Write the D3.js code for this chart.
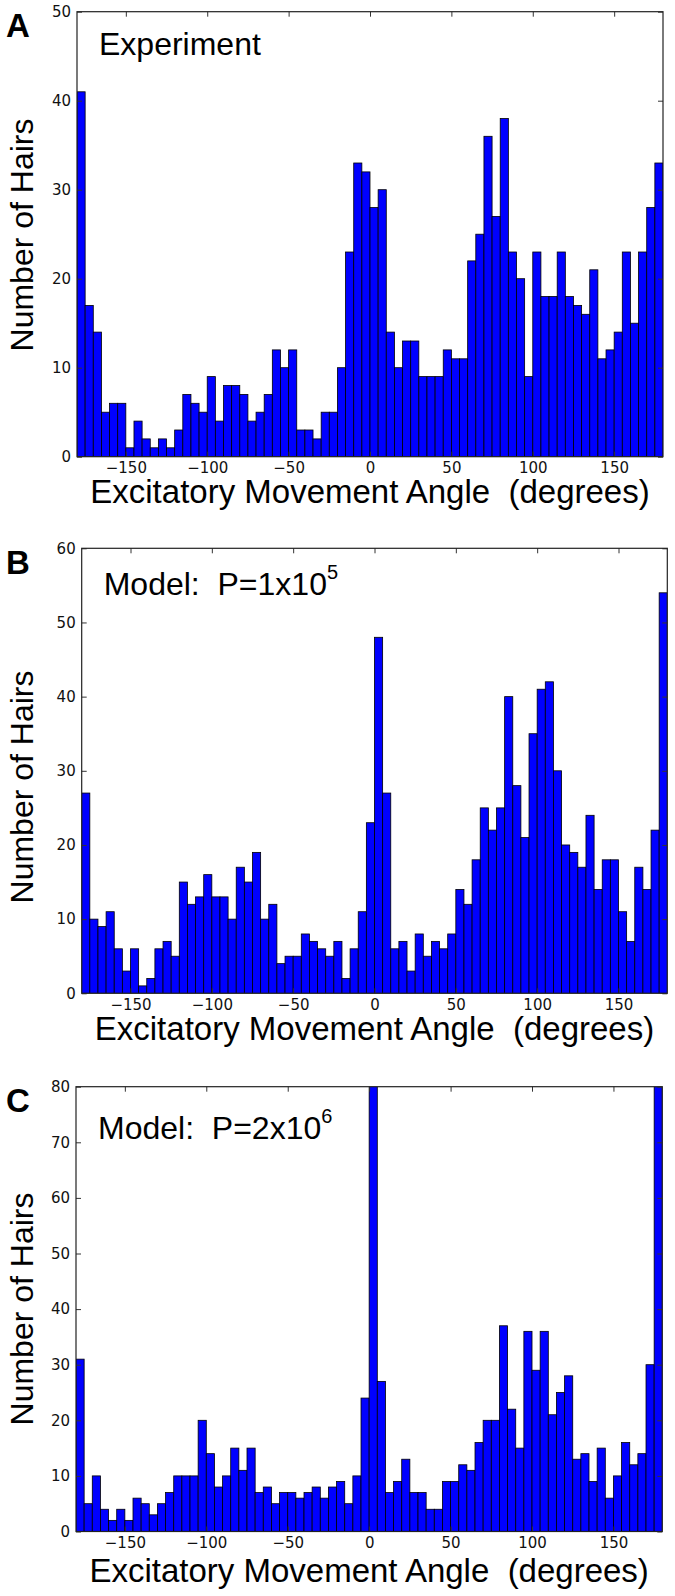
<!DOCTYPE html>
<html>
<head>
<meta charset="utf-8">
<script src="https://cdn.jsdelivr.net/npm/d3@7"></script>
<style>
  body { margin: 0; background: #fff; }
  svg { display: block; }
</style>
</head>
<body>
<div id="chart"></div>
<script>
// 5 degree bins from -180 to 180
const binStarts = d3.range(-180, 180, 5);
const binWidth = 5;

// counts per bin
const experimentCounts = [41,17,14,5,6,6,1,4,2,1, 2,1,3,7,6,5,9,4,8,8, 7,4,5,7,12,10,12,3,3,2,
  5,5,10,23,33,32,28,30,14,10, 13,13,9,9,9,12,11,11,22,25, 36,27,38,23,20,9,23,18,18,23,
  18,17,16,21,11,12,14,23,15,23, 28,33];
const modelP1e5Counts = [27,10,9,11,6,3,6,1,2,6, 7,5,15,12,13,16,13,13,10,17, 15,19,10,12,4,5,5,8,7,6,
  5,7,2,6,11,23,48,27,6,7, 3,8,5,7,6,8,14,12,18,25, 22,25,40,28,21,35,41,42,30,20,
  19,17,24,14,18,18,11,7,17,14, 22,54];
// two bars run off the top of panel C (> 80)
const modelP2e6Counts = [31,5,10,4,2,4,2,6,5,3, 5,7,10,10,10,20,14,8,10,15, 11,15,7,8,5,7,7,6,7,8,
  6,8,9,5,10,24,95,27,7,9, 13,7,7,4,4,9,9,12,11,16, 20,20,37,22,15,36,29,36,21,25,
  28,13,14,9,15,6,10,16,12,14, 30,90];

const angleTicks = [-150, -100, -50, 0, 50, 100, 150];
const countTicksA = [0, 10, 20, 30, 40, 50];
const countTicksB = [0, 10, 20, 30, 40, 50, 60];
const countTicksC = [0, 10, 20, 30, 40, 50, 60, 70, 80];

const xLabel = "Excitatory Movement Angle\u00a0\u00a0(degrees)";
const yLabel = "Number of Hairs";

const panels = [
  { letter: "A", title: "Experiment", exp: null, counts: experimentCounts, ticks: countTicksA,
    left: 77, right: 663, top: 11.7, bottom: 456.7, titleY: 55, letterY: 36.5, yLabelY: 235, xLabelGap: 46 },
  { letter: "B", title: "Model:\u00a0\u00a0P=1x10", exp: "5", counts: modelP1e5Counts, ticks: countTicksB,
    left: 81.7, right: 667.3, top: 548.3, bottom: 993.3, titleY: 595, letterY: 573.5, yLabelY: 787, xLabelGap: 47 },
  { letter: "C", title: "Model:\u00a0\u00a0P=2x10", exp: "6", counts: modelP2e6Counts, ticks: countTicksC,
    left: 76, right: 662.3, top: 1086.7, bottom: 1531.5, titleY: 1139.3, letterY: 1112, yLabelY: 1309, xLabelGap: 50 }
];

const width = 675;
const height = 1596;

const svg = d3.select("#chart")
  .append("svg")
  .attr("width", width)
  .attr("height", height);

const labelFont = "'Liberation Sans', Arial, Helvetica, sans-serif";
const tickFont = "'DejaVu Sans', sans-serif";

panels.forEach((p, pi) => {
  const yMax = p.ticks[p.ticks.length - 1];
  const x = d3.scaleLinear().domain([-180, 180]).range([p.left, p.right]);
  const y = d3.scaleLinear().domain([0, yMax]).range([p.bottom, p.top]);

  const g = svg.append("g");

  // clip bars to the plot area
  const clipId = "clip" + pi;
  svg.append("clipPath").attr("id", clipId)
    .append("rect")
    .attr("x", p.left).attr("y", p.top)
    .attr("width", p.right - p.left).attr("height", p.bottom - p.top);

  g.append("g")
    .attr("clip-path", `url(#${clipId})`)
    .selectAll("rect")
    .data(binStarts)
    .enter()
    .append("rect")
    .attr("x", d => x(d))
    .attr("width", d => x(d + binWidth) - x(d))
    .attr("y", (d, i) => y(p.counts[i]))
    .attr("height", (d, i) => y(0) - y(p.counts[i]))
    .attr("fill", "#0000ff")
    .attr("stroke", "#000")
    .attr("stroke-width", 0.8);

  // axes, ticks pointing inward like matplotlib classic
  const styleAxis = sel => {
    sel.select(".domain").remove();
    sel.selectAll(".tick line").attr("stroke", "#333");
    sel.selectAll(".tick text")
      .attr("fill", "#111")
      .style("font-family", tickFont)
      .style("font-size", "15px");
  };

  g.append("g")
    .attr("transform", `translate(0,${p.bottom})`)
    .call(d3.axisBottom(x).tickValues(angleTicks).tickSizeInner(-5).tickSizeOuter(0).tickPadding(6))
    .call(styleAxis);

  g.append("g")
    .attr("transform", `translate(0,${p.top})`)
    .call(d3.axisTop(x).tickValues(angleTicks).tickSizeInner(-5).tickSizeOuter(0).tickFormat(""))
    .call(styleAxis);

  g.append("g")
    .attr("transform", `translate(${p.left},0)`)
    .call(d3.axisLeft(y).tickValues(p.ticks).tickSizeInner(-5).tickSizeOuter(0).tickPadding(6))
    .call(styleAxis);

  g.append("g")
    .attr("transform", `translate(${p.right},0)`)
    .call(d3.axisRight(y).tickValues(p.ticks).tickSizeInner(-5).tickSizeOuter(0).tickFormat(""))
    .call(styleAxis);

  // frame
  g.append("rect")
    .attr("x", p.left).attr("y", p.top)
    .attr("width", p.right - p.left).attr("height", p.bottom - p.top)
    .attr("fill", "none")
    .attr("stroke", "#222")
    .attr("stroke-width", 1.2);

  // panel letter
  g.append("text")
    .attr("x", 6)
    .attr("y", p.letterY)
    .style("font-family", labelFont)
    .style("font-weight", "bold")
    .style("font-size", "33px")
    .text(p.letter);

  // title inside the plot
  const t = g.append("text")
    .attr("x", p.left + 22)
    .attr("y", p.titleY)
    .style("font-family", labelFont)
    .style("font-size", "32px")
    .text(p.title);
  if (p.exp) {
    t.append("tspan")
      .attr("dy", -16)
      .style("font-size", "20px")
      .text(p.exp);
  }

  // axis labels
  g.append("text")
    .attr("x", (p.left + p.right) / 2)
    .attr("y", p.bottom + p.xLabelGap)
    .attr("text-anchor", "middle")
    .style("font-family", labelFont)
    .style("font-size", "33px")
    .text(xLabel);

  g.append("text")
    .attr("transform", `translate(33,${p.yLabelY}) rotate(-90)`)
    .attr("text-anchor", "middle")
    .style("font-family", labelFont)
    .style("font-size", "32px")
    .text(yLabel);
});
</script>
</body>
</html>
